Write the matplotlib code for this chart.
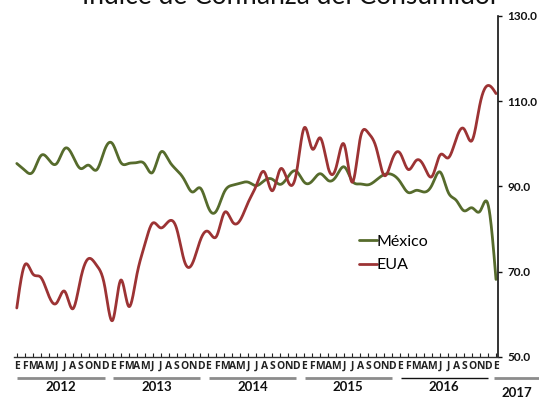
import numpy as np
import matplotlib
matplotlib.use("Agg")
import matplotlib.pyplot as plt
import matplotlib.transforms as mtransforms

# ---- data (monthly, Jan 2012 .. Jan 2017) ----
mexico = [95.4, 93.8, 93.4, 97.2, 96.3, 95.4, 98.9, 97.2, 94.2, 95.0, 93.9, 98.6,
          100.0, 95.7, 95.4, 95.6, 95.3, 93.3, 98.0, 96.2, 93.9, 91.5, 88.7, 89.6,
          85.0, 84.3, 88.8, 90.3, 90.8, 91.0, 90.2, 91.4, 91.7, 90.5, 92.4, 93.6,
          91.0, 91.3, 93.0, 91.4, 92.4, 94.6, 91.3, 90.6, 90.4, 91.5, 92.8, 92.8,
          91.1, 88.6, 89.1, 88.7, 90.4, 93.4, 88.7, 86.8, 84.3, 85.0, 84.2, 85.8,
          68.2]
eua = [61.5, 71.6, 69.5, 68.7, 64.4, 62.7, 65.4, 61.3, 68.4, 73.1, 71.5, 66.7,
       58.6, 68.0, 61.9, 69.0, 76.2, 81.4, 80.3, 81.8, 80.2, 72.4, 72.0, 77.5,
       79.4, 78.3, 83.9, 81.7, 82.2, 86.4, 90.3, 93.4, 89.0, 94.1, 91.0, 93.1,
       103.8, 98.8, 101.4, 94.3, 94.6, 99.8, 91.0, 101.3, 102.6, 99.1, 92.6, 96.3,
       97.8, 94.0, 96.1, 94.7, 92.4, 97.4, 96.7, 101.1, 103.5, 100.8, 109.4, 113.7,
       111.8]
month_labels = list("EFMAMJJASOND") * 5 + ["E"]
years = ["2012", "2013", "2014", "2015", "2016"]
last_year = "2017"
y_ticks = [50, 70, 90, 110, 130]
title = "Índice de Confianza del Consumidor"

green = "#566b2c"
red = "#9c3334"


def natural_spline(y, n_sub=20):
    y = np.asarray(y, float)
    n = len(y)
    x = np.arange(n, dtype=float)
    A = np.zeros((n, n))
    b = np.zeros(n)
    A[0, 0] = 1
    A[-1, -1] = 1
    for i in range(1, n - 1):
        A[i, i - 1] = 1
        A[i, i] = 4
        A[i, i + 1] = 1
        b[i] = 6 * (y[i + 1] - 2 * y[i] + y[i - 1])
    M = np.linalg.solve(A, b)
    xs, ys = [], []
    for i in range(n - 1):
        t = np.linspace(0, 1, n_sub, endpoint=False)
        a = 1 - t
        yy = a * y[i] + t * y[i + 1] + ((a ** 3 - a) * M[i] + (t ** 3 - t) * M[i + 1]) / 6
        xs.append(x[i] + t)
        ys.append(yy)
    xs.append([x[-1]])
    ys.append([y[-1]])
    return np.concatenate(xs), np.concatenate(ys)


plt.rcParams['font.family'] = ['Lato', 'DejaVu Sans']

fig = plt.figure(figsize=(5.39, 4.0), dpi=100)
ax = fig.add_axes([14 / 539, 1 - 357 / 400, (498 - 14) / 539, (357 - 16) / 400])

xm, ym = natural_spline(mexico)
xe, ye = natural_spline(eua)
ax.plot(xm, ym, color=green, lw=2.0, label="México", solid_capstyle="round")
ax.plot(xe, ye, color=red, lw=2.0, label="EUA", solid_capstyle="round")

ax.set_xlim(-0.35, 60.25)
ax.set_ylim(50, 130)

for s in ["top", "left"]:
    ax.spines[s].set_visible(False)
ax.spines["right"].set_color("#111111")
ax.spines["right"].set_linewidth(1.2)
ax.spines["bottom"].set_color("#333333")
ax.spines["bottom"].set_linewidth(1.0)

ax.yaxis.tick_right()
ax.set_yticks(y_ticks)
ax.set_yticklabels([f"{v:.1f}" for v in y_ticks], fontsize=8.5, fontweight="bold")
ax.tick_params(axis="y", direction="out", length=3, width=1.0, pad=4, colors="#111111")

ax.set_xticks(range(len(month_labels)))
ax.set_xticklabels(month_labels, fontsize=7.5, fontweight="bold", family="Open Sans")
ax.tick_params(axis="x", direction="in", length=3, width=0.8, pad=3, colors="#222222")

trans = mtransforms.blended_transform_factory(ax.transData, ax.transAxes)
y_line = -21 / 341
y_text = -30 / 341
for k, yr in enumerate(years):
    x0 = 12 * k
    col = "#111111" if k == 4 else "#8c8c8c"
    lw = 1.0 if k == 4 else 2.0
    ax.plot([x0 + 0.05, x0 + 11.0], [y_line, y_line], transform=trans, color=col,
            lw=lw, clip_on=False, solid_capstyle="butt")
    ax.text(x0 + 5.5, y_text, yr, transform=trans, ha="center", va="center",
            fontsize=9.5, fontweight="bold", color="#111111")
ax.plot([59.8, 66], [y_line, y_line], transform=trans, color="#8c8c8c", lw=2.0,
        clip_on=False, solid_capstyle="butt")
ax.text(62.6, -36 / 341, last_year, transform=trans, ha="center", va="center",
        fontsize=9.5, fontweight="bold", color="#111111")

leg = ax.legend(loc="upper left", bbox_to_anchor=(339 / 484, 1 - 212 / 341), frameon=False,
                fontsize=11.5, handlelength=1.1, handletextpad=0.0, labelspacing=0.6,
                borderaxespad=0)
for line in leg.get_lines():
    line.set_linewidth(2.0)

fig.text(0.54, 1 - 4 / 400, title, ha="center", va="baseline", fontsize=19,
         color="#111111")

fig.savefig("out.png", dpi=100)
